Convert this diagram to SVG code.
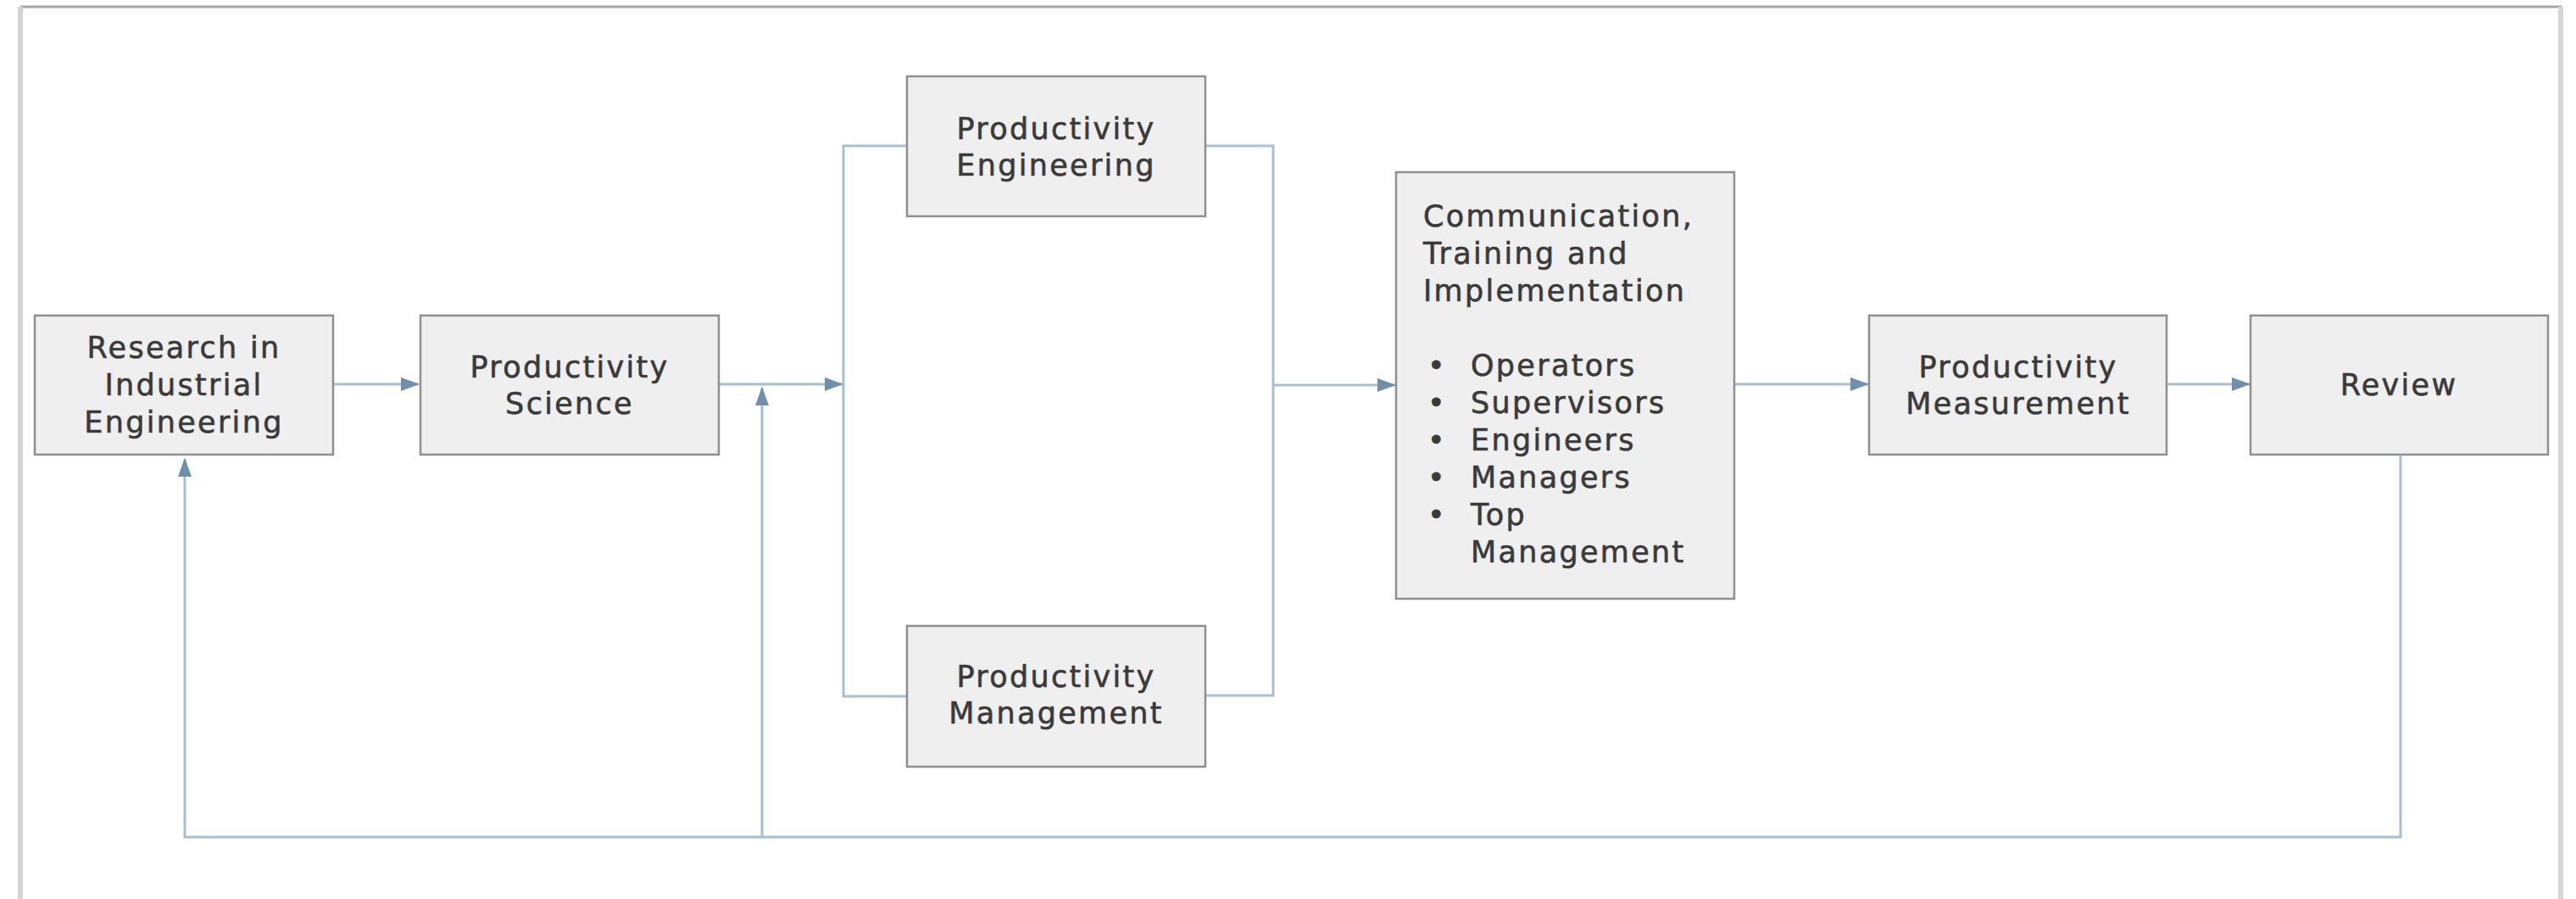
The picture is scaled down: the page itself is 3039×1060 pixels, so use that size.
<svg xmlns="http://www.w3.org/2000/svg" width="3039" height="1060" viewBox="0 0 3039 1060">
<style>
.box{fill:#efefef;stroke:#8f8f8f;stroke-width:2.5}
.t{font-family:"DejaVu Sans",Verdana,sans-serif;font-size:35px;letter-spacing:2.3px;fill:#3a3a3a;stroke:#3a3a3a;stroke-width:0.6}
.c{text-anchor:middle}
.ln{fill:none;stroke:#a7bfd3;stroke-width:3}
.fr{fill:none;stroke-width:6}
</style>
<defs>
<marker id="ah" markerUnits="userSpaceOnUse" markerWidth="22" markerHeight="18" refX="21" refY="8" orient="auto">
<path d="M0,0 L22,8 L0,16 z" fill="#6e8fae"/>
</marker>
</defs>
<rect width="3039" height="1060" fill="#ffffff"/>
<g id="frame">
<line x1="24" y1="8" x2="3022" y2="8" stroke="#a6a6a6" stroke-width="3"/>
<line x1="24" y1="8" x2="24" y2="1060" class="fr" stroke="#d3d3d3"/>
<line x1="3021" y1="8" x2="3021" y2="1060" class="fr" stroke="#d6d6d6"/>
</g>
<g id="connectors">
<line class="ln" x1="393" y1="453" x2="494" y2="453" marker-end="url(#ah)"/>
<line class="ln" x1="848" y1="453" x2="994" y2="453" marker-end="url(#ah)"/>
<polyline class="ln" points="1070,172 995,172 995,821 1070,821"/>
<polyline class="ln" points="1422,172 1502,172 1502,820 1422,820"/>
<line class="ln" x1="1502" y1="454" x2="1646" y2="454" marker-end="url(#ah)"/>
<line class="ln" x1="2046" y1="453" x2="2204" y2="453" marker-end="url(#ah)"/>
<line class="ln" x1="2556" y1="453" x2="2654" y2="453" marker-end="url(#ah)"/>
<polyline class="ln" points="2832,537 2832,987 218,987 218,541" marker-end="url(#ah)"/>
<line class="ln" x1="899" y1="987" x2="899" y2="457" marker-end="url(#ah)"/>
</g>
<g id="research">
<rect class="box" x="41" y="372" width="352" height="164"/>
<text class="t c" x="217" y="422">Research in</text>
<text class="t c" x="217" y="466">Industrial</text>
<text class="t c" x="217" y="510">Engineering</text>
</g>
<g id="science">
<rect class="box" x="496" y="372" width="352" height="164"/>
<text class="t c" x="672" y="445">Productivity</text>
<text class="t c" x="672" y="488">Science</text>
</g>
<g id="prod-eng">
<rect class="box" x="1070" y="90" width="352" height="165"/>
<text class="t c" x="1246" y="164">Productivity</text>
<text class="t c" x="1246" y="207">Engineering</text>
</g>
<g id="prod-mgmt">
<rect class="box" x="1070" y="738" width="352" height="166"/>
<text class="t c" x="1246" y="810">Productivity</text>
<text class="t c" x="1246" y="853">Management</text>
</g>
<g id="comm">
<rect class="box" x="1647" y="203" width="399" height="503"/>
<text class="t" x="1679" y="267">Communication,</text>
<text class="t" x="1679" y="311">Training and</text>
<text class="t" x="1679" y="355">Implementation</text>
<text class="t" x="1684" y="443">•</text>
<text class="t" x="1735" y="443">Operators</text>
<text class="t" x="1684" y="487">•</text>
<text class="t" x="1735" y="487">Supervisors</text>
<text class="t" x="1684" y="531">•</text>
<text class="t" x="1735" y="531">Engineers</text>
<text class="t" x="1684" y="575">•</text>
<text class="t" x="1735" y="575">Managers</text>
<text class="t" x="1684" y="619">•</text>
<text class="t" x="1735" y="619">Top</text>
<text class="t" x="1735" y="663">Management</text>
</g>
<g id="measurement">
<rect class="box" x="2205" y="372" width="351" height="164"/>
<text class="t c" x="2381" y="445">Productivity</text>
<text class="t c" x="2381" y="488">Measurement</text>
</g>
<g id="review">
<rect class="box" x="2655" y="372" width="351" height="164"/>
<text class="t c" x="2830" y="466">Review</text>
</g>
</svg>
